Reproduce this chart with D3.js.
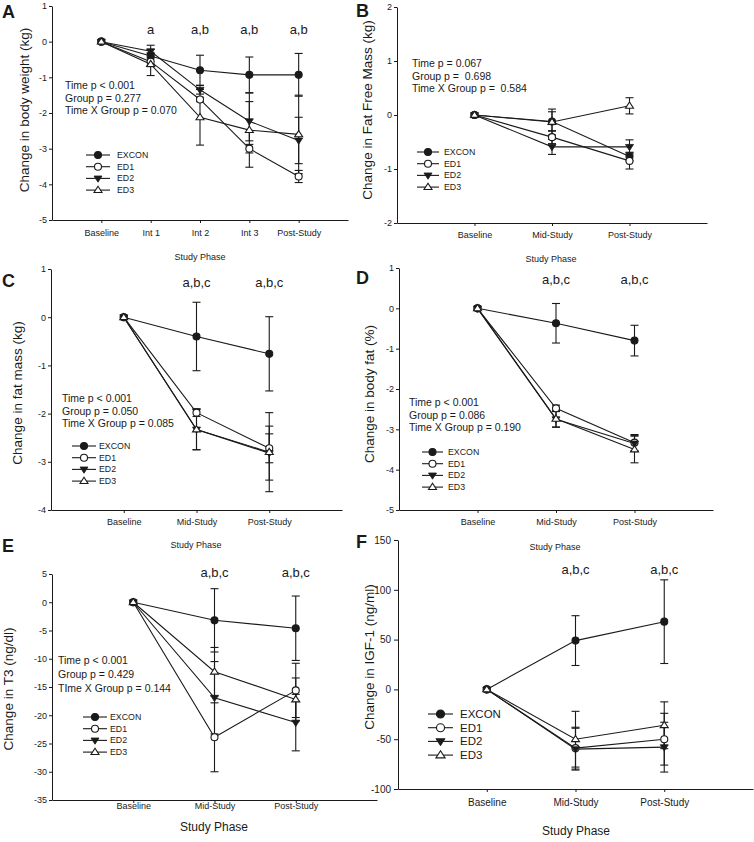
<!DOCTYPE html>
<html><head><meta charset="utf-8">
<script src="https://cdn.jsdelivr.net/npm/d3@7"></script>
<style>
body{margin:0;background:#fff;}
svg{display:block;font-family:"Liberation Sans",Arial,sans-serif;}
text{fill:#1a1a1a;}
</style></head><body>
<svg id="c" width="754" height="842"></svg>
<script>
// ---------- data ----------
const seriesNames = ["EXCON","ED1","ED2","ED3"];
const catsA = ["Baseline","Int 1","Int 2","Int 3","Post-Study"];
const cats3 = ["Baseline","Mid-Study","Post-Study"];

const ticksA = [-5,-4,-3,-2,-1,0,1];
const ticksB = [-2,-1,0,1,2];
const ticksC = [-4,-3,-2,-1,0,1];
const ticksD = [-5,-4,-3,-2,-1,0,1];
const ticksE = [-35,-30,-25,-20,-15,-10,-5,0,5];
const ticksF = [-100,-50,0,50,100,150];

const weightMeans = [[0,-0.40,-0.80,-0.93,-0.93],[0,-0.56,-1.62,-3.00,-3.78],[0,-0.27,-1.35,-2.23,-2.77],[0,-0.63,-2.12,-2.48,-2.60]];
const weightErr   = [[0,0.30,0.42,0.50,0.60],[0,0.10,0.06,0.12,0.17],[0,0.06,0.12,0.55,0.65],[0,0.32,0.78,1.04,1.10]];
const ffmMeans = [[0,-0.12,-0.77],[0,-0.41,-0.85],[0,-0.59,-0.59],[0,-0.13,0.17]];
const ffmErr   = [[0,0.18,0.08],[0,0.12,0.15],[0,0.14,0.13],[0,0.24,0.15]];
const fatMeans = [[0,-0.40,-0.76],[0,-1.98,-2.72],[0,-2.33,-2.82],[0,-2.33,-2.80]];
const fatErr   = [[0,0.71,0.77],[0,0.08,0.30],[0,0.42,0.56],[0,0.42,0.82]];
const bfMeans = [[0,-0.37,-0.80],[0,-2.48,-3.33],[0,-2.75,-3.35],[0,-2.74,-3.50]];
const bfErr   = [[0,0.49,0.38],[0,0.08,0.20],[0,0.20,0.20],[0,0.20,0.33]];
const t3Means = [[0,-3.2,-4.6],[0,-23.9,-15.6],[0,-16.9,-21.3],[0,-12.3,-17.2]];
const t3Err   = [[0,5.6,5.7],[0,6.1,4.8],[0,6.4,5.0],[0,4.3,3.8]];
const igfMeans = [[0,49,68],[0,-59,-50],[0,-60,-58],[0,-50,-36]];
const igfErr   = [[0,25,42],[0,21,26],[0,21,25],[0,28,23.5]];

const sigA = ["","a","a,b","a,b","a,b"];
const sig3 = ["","a,b,c","a,b,c"];
const statsA = ["Time p < 0.001","Group p = 0.277","Time X Group p = 0.070"];
const statsB = ["Time p = 0.067","Group p =  0.698","Time X Group p =  0.584"];
const statsC = ["Time p < 0.001","Group p = 0.050","Time X Group p = 0.085"];
const statsD = ["Time p < 0.001","Group p = 0.086","Time X Group p = 0.190"];
const statsE = ["Time p < 0.001","Group p = 0.429","TIme X Group p = 0.144"];

// ---------- drawing ----------
const svg = d3.select("#c");
const INK = "#1a1a1a";

function marker(g, k, cx, cy, s) {
  s = s || 1;
  if (k === 0 || k === 1) {
    g.append("circle").attr("cx",cx).attr("cy",cy).attr("r",3.5*s)
      .attr("fill", k===0 ? INK : "#fff").attr("stroke",INK).attr("stroke-width",1.1);
  } else if (k === 2) {
    const r = 4.0*s;
    g.append("path").attr("d",`M${cx-r},${cy-r*0.6}L${cx+r},${cy-r*0.6}L${cx},${cy+r*0.95}Z`)
      .attr("fill",INK).attr("stroke",INK).attr("stroke-width",0.8);
  } else {
    const r = 4.0*s;
    g.append("path").attr("d",`M${cx-r},${cy+r*0.6}L${cx+r},${cy+r*0.6}L${cx},${cy-r*0.95}Z`)
      .attr("fill","#fff").attr("stroke",INK).attr("stroke-width",1.1);
  }
}

function panel(c) {
  const g = svg.append("g");
  const n = c.cats.length;
  const x = d3.scaleLinear().domain([-1, n]).range(c.xr);
  const y = d3.scaleLinear().domain([c.ticks[0], c.ticks[c.ticks.length-1]]).range(c.yr);

  const ya = g.append("g").attr("transform",`translate(${c.xr[0]},0)`)
    .call(d3.axisLeft(y).tickValues(c.ticks).tickFormat(d=>String(d)).tickSize(c.ytick||3).tickSizeOuter(0).tickPadding(c.ypad||2));
  const xa = g.append("g").attr("transform",`translate(0,${c.yr[0]})`)
    .call(d3.axisBottom(x).tickValues(d3.range(n)).tickFormat(i=>c.cats[i]).tickSize(3).tickSizeOuter(0).tickPadding(c.xpad));
  [ya,xa].forEach(a=>{
    a.selectAll("path,line").attr("stroke",INK).attr("stroke-width",1);
    a.selectAll("text").attr("font-size",c.tickFs).attr("fill",INK);
    a.attr("font-family",null);
  });
  // panel letter
  g.append("text").attr("x",c.letter[0]).attr("y",c.letter[1]).text(c.name)
    .attr("font-size",18).attr("font-weight","bold");
  // y label
  g.append("text").attr("transform",`translate(${c.ylab[0]},${c.ylab[1]}) rotate(-90)`)
    .attr("text-anchor","middle").attr("dominant-baseline","central")
    .attr("font-size",c.ylabFs||13.5).text(c.ylabel);
  // x label
  g.append("text").attr("x",c.xlab[0]).attr("y",c.xlab[1]).attr("text-anchor","middle")
    .attr("dominant-baseline","central").attr("font-size",c.xlabFs).text("Study Phase");
  // significance letters
  c.sig.forEach((s,i)=>{ if(s) g.append("text").attr("x",x(i)).attr("y",c.sigY)
    .attr("text-anchor","middle").attr("font-size",13).text(s); });
  // stats
  if (c.stats) c.stats.forEach((s,i)=>{
    g.append("text").attr("x",c.statsPos[0]).attr("y",c.statsPos[1]+i*c.statsPos[2])
      .attr("font-size",10.5).style("white-space","pre").text(s);
  });
  // lines
  const line = d3.line().x((d,i)=>x(i)).y(d=>y(d));
  c.means.forEach((m,k)=>{
    g.append("path").attr("d",line(m)).attr("fill","none").attr("stroke",INK).attr("stroke-width",1.1);
  });
  // error bars
  c.means.forEach((m,k)=>{
    m.forEach((v,i)=>{
      const e = c.errs[k][i]; if(!e) return;
      const x0 = x(i), y1 = y(v+e), y2 = y(v-e);
      g.append("line").attr("x1",x0).attr("x2",x0).attr("y1",y1).attr("y2",y2).attr("stroke",INK).attr("stroke-width",1.1);
      [y1,y2].forEach(yy=>g.append("line").attr("x1",x0-4).attr("x2",x0+4).attr("y1",yy).attr("y2",yy).attr("stroke",INK).attr("stroke-width",1.1));
    });
  });
  // markers
  c.means.forEach((m,k)=>{ m.forEach((v,i)=>marker(g,k,x(i),y(v))); });
  // legend
  const L = c.legend;
  seriesNames.forEach((s,k)=>{
    const yy = L.y + k*L.dy;
    g.append("line").attr("x1",L.x).attr("x2",L.x+L.w).attr("y1",yy).attr("y2",yy).attr("stroke",INK).attr("stroke-width",1.1);
    marker(g,k,L.x+L.w/2,yy,L.ms||1);
    g.append("text").attr("x",L.x+L.w+L.gap).attr("y",yy).attr("dominant-baseline","central")
      .attr("font-size",L.fs).text(s);
  });
}

panel({name:"A", cats:catsA, ticks:ticksA, xr:[52,348], yr:[220,6], means:weightMeans, errs:weightErr,
  tickFs:9, xpad:7, letter:[2,18], ylabel:"Change in body weight (kg)", ylab:[24,110], xlab:[200,257], xlabFs:9,
  sig:sigA, sigY:34, stats:statsA, statsPos:[65,89,12.5], legend:{x:86,y:155,dy:11.7,w:24,gap:7,fs:8.8}});
panel({name:"B", cats:cats3, ticks:ticksB, xr:[397,707], yr:[223,7], means:ffmMeans, errs:ffmErr,
  tickFs:9, xpad:6, letter:[356,17], ylabel:"Change in Fat Free Mass (kg)", ylab:[367,110], xlab:[551,259], xlabFs:9,
  sig:["","",""], sigY:0, stats:statsB, statsPos:[412,67,12.7], legend:{x:417,y:152,dy:11.7,w:22,gap:5,fs:8.8}});
panel({name:"C", cats:cats3, ticks:ticksC, xr:[51,342], yr:[510,269], means:fatMeans, errs:fatErr,
  tickFs:9, xpad:6, letter:[2,287], ylabel:"Change in fat mass (kg)", ylab:[17,393], xlab:[196,545], xlabFs:9,
  sig:sig3, sigY:287, stats:statsC, statsPos:[62,402,12.5], legend:{x:72,y:446,dy:11.7,w:24,gap:3,fs:8.8}});
panel({name:"D", cats:cats3, ticks:ticksD, xr:[399,713], yr:[510,268], means:bfMeans, errs:bfErr,
  tickFs:9, xpad:6, letter:[356,284], ylabel:"Change in body fat (%)", ylab:[369,394], xlab:[555,547], xlabFs:9,
  sig:sig3, sigY:284, stats:statsD, statsPos:[409,406,12.5], legend:{x:422,y:452,dy:11.7,w:21,gap:5,fs:8.8}});
panel({name:"E", cats:cats3, ticks:ticksE, xr:[52,377], yr:[800,574], means:t3Means, errs:t3Err,
  tickFs:9, xpad:0, letter:[2,552], ylabel:"Change in T3 (ng/dl)", ylab:[8,689], xlab:[214,827], xlabFs:12,
  sig:sig3, sigY:577, stats:statsE, statsPos:[58,664,14], legend:{x:83,y:717,dy:11.7,w:24,gap:3,fs:8.8}});
panel({name:"F", cats:cats3, ticks:ticksF, xr:[398,753], yr:[789,540], means:igfMeans, errs:igfErr,
  tickFs:10, xpad:7, ytick:4, ypad:3, letter:[356,548], ylabel:"Change in IGF-1 (ng/ml)", ylab:[369,657], xlab:[576,831], xlabFs:12,
  sig:sig3, sigY:574, legend:{x:428,y:714,dy:13.7,w:25,gap:7,fs:11.5,ms:1.15}});
</script>
</body></html>
